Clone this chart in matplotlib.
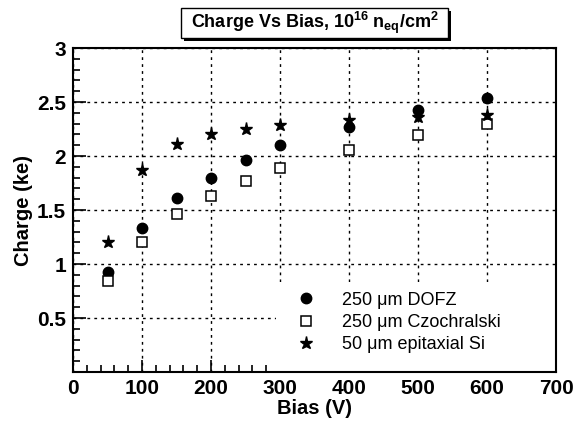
import numpy as np
import matplotlib
matplotlib.use("Agg")
import matplotlib.pyplot as plt
from matplotlib.patches import Rectangle
from matplotlib.ticker import MultipleLocator

plt.rcParams['font.family'] = ['Liberation Sans', 'DejaVu Sans']
plt.rcParams['mathtext.fontset'] = 'custom'
plt.rcParams['mathtext.rm'] = 'Liberation Sans:bold'
plt.rcParams['mathtext.it'] = 'Liberation Sans:bold'
plt.rcParams['mathtext.bf'] = 'Liberation Sans:bold'

# data
bias = [50, 100, 150, 200, 250, 300, 400, 500, 600]
dofz = [0.93, 1.33, 1.61, 1.80, 1.96, 2.10, 2.27, 2.43, 2.54]
czochralski = [0.84, 1.20, 1.46, 1.63, 1.77, 1.89, 2.06, 2.19, 2.30]
epitaxial = [1.20, 1.87, 2.11, 2.20, 2.25, 2.29, 2.33, 2.36, 2.38]
labels = ["250 μm DOFZ", "250 μm Czochralski", "50 μm epitaxial Si"]

W, H = 579, 423
fig = plt.figure(figsize=(W / 100, H / 100), dpi=100)
ax = fig.add_axes([73 / W, 1 - 372 / H, (556 - 73) / W, (372 - 48) / H])

ax.set_axisbelow(True)
ax.grid(True, color='black', linestyle=(0, (2, 3)), linewidth=1.0)

# white block behind the legend hides the grid there
ax.add_patch(Rectangle((0.42, 0.0), 0.58, 0.277, transform=ax.transAxes,
                       facecolor='white', edgecolor='none', zorder=1))

h1, = ax.plot(bias, dofz, 'o', color='black', markersize=7.5, zorder=3)
h2, = ax.plot(bias, czochralski, 's', markerfacecolor='white',
              markeredgecolor='black', markersize=7, markeredgewidth=1.1, zorder=3)
h3, = ax.plot(bias, epitaxial, '*', color='black', markersize=9.5, zorder=3)

ax.legend([h1, h2, h3], labels, loc='lower left', bbox_to_anchor=(0.43, 0.035),
          frameon=False, fontsize=13, handletextpad=1.0, labelspacing=0.3,
          borderaxespad=0)

ax.set_xlim(0, 700)
ax.set_ylim(0, 3)
ax.xaxis.set_major_locator(MultipleLocator(100))
ax.xaxis.set_minor_locator(MultipleLocator(20))
ax.set_yticks([0.5, 1, 1.5, 2, 2.5, 3])
ax.set_yticklabels(['0.5', '1', '1.5', '2', '2.5', '3'])
ax.yaxis.set_minor_locator(MultipleLocator(0.1))
ax.tick_params(which='both', direction='in', labelsize=15, width=1.2)
ax.tick_params(which='major', length=9, pad=5)
ax.tick_params(which='minor', length=5)
for lab in ax.get_xticklabels() + ax.get_yticklabels():
    lab.set_fontweight('bold')
for sp in ax.spines.values():
    sp.set_linewidth(1.5)

ax.set_xlabel("Bias (V)", fontsize=14.5, fontweight='bold', labelpad=1)
ax.set_ylabel("Charge (ke)", fontsize=14.5, fontweight='bold', labelpad=3)

# ROOT-style title box with shadow
fig.patches.append(Rectangle((184 / W, 1 - 41 / H), 267 / W, 30 / H,
                             transform=fig.transFigure, facecolor='black',
                             edgecolor='none', zorder=1))
fig.patches.append(Rectangle((181 / W, 1 - 38 / H), 267 / W, 30 / H,
                             transform=fig.transFigure, facecolor='white',
                             edgecolor='black', linewidth=1.0, zorder=2))
fig.text((181 + 448) / 2 / W, 1 - 23 / H,
         r"Charge Vs Bias, 10$^{16}$ n$_{\mathrm{eq}}$/cm$^{2}$",
         ha='center', va='center', fontsize=13, fontweight='bold', zorder=3)

fig.savefig("out.png", dpi=100)
